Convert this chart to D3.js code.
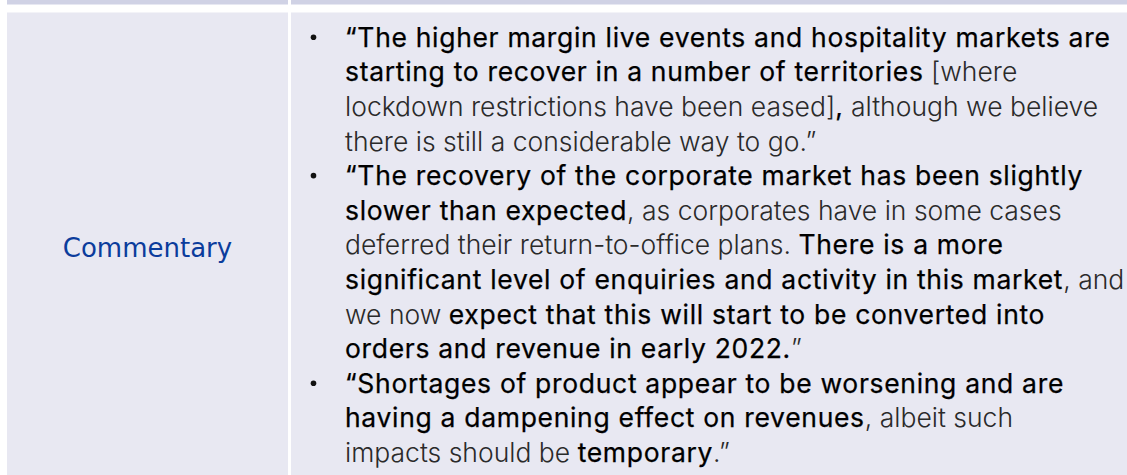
<!DOCTYPE html>
<html>
<head>
<meta charset="utf-8">
<script src="https://cdn.jsdelivr.net/npm/d3@7"></script>
<style>
  body { margin: 0; background: #ffffff; }
  svg { display: block; }
</style>
</head>
<body>
<div id="chart"></div>
<script>
// row label in the left column
var rowLabel = "Commentary";

// commentary lines, each a list of [weight, text] parts (b = emphasis, l = light)
var lines = [
  [["b", "\u201CThe higher margin live events and hospitality markets are"]],
  [["b", "starting to recover in a number of territories"], ["l", " [where"]],
  [["l", "lockdown restrictions have been eased]"], ["b", ","], ["l", " although we believe"]],
  [["l", "there is still a considerable way to go.\u201D"]],
  [["b", "\u201CThe recovery of the corporate market has been slightly"]],
  [["b", "slower than expected"], ["l", ", as corporates have in some cases"]],
  [["l", "deferred their return-to-office plans. "], ["b", "There is a more"]],
  [["b", "significant level of enquiries and activity in this market"], ["l", ", and"]],
  [["l", "we now "], ["b", "expect that this will start to be converted into"]],
  [["b", "orders and revenue in early 2022."], ["l", "\u201D"]],
  [["b", "\u201CShortages of product appear to be worsening and are"]],
  [["b", "having a dampening effect on revenues"], ["l", ", albeit such"]],
  [["l", "impacts should be "], ["b", "temporary"], ["l", ".\u201D"]]
];

// lines that start a new bullet
var bulletLines = [0, 4, 10];

var width = 1127, height = 475;

var svg = d3.select("#chart").append("svg")
  .attr("width", width)
  .attr("height", height);

// columns
var colX = d3.scaleOrdinal().domain(["label", "text"]).range([7, 291]);
var colW = d3.scaleOrdinal().domain(["label", "text"]).range([281, 836]);

// header strip
svg.selectAll(".head")
  .data(["label", "text"])
  .enter().append("rect")
  .attr("x", function(d) { return colX(d); })
  .attr("y", 0)
  .attr("width", function(d) { return colW(d); })
  .attr("height", 4.5)
  .attr("fill", "#d0d2e5");

// body cells
svg.selectAll(".cell")
  .data(["label", "text"])
  .enter().append("rect")
  .attr("x", function(d) { return colX(d); })
  .attr("y", 12.5)
  .attr("width", function(d) { return colW(d); })
  .attr("height", height - 12.5)
  .attr("fill", "#e8e8f2");

// label
svg.append("text")
  .attr("x", colX("label") + colW("label") / 2)
  .attr("y", 257)
  .attr("text-anchor", "middle")
  .attr("font-family", "DejaVu Sans")
  .attr("font-size", "26px")
  .attr("fill", "#0b3c9c")
  .text(rowLabel);

// line baselines
var y = d3.scaleLinear().domain([0, lines.length - 1]).range([46.7, 462]);

var textX = 345;

svg.selectAll(".bullet")
  .data(bulletLines)
  .enter().append("circle")
  .attr("cx", 313.5)
  .attr("cy", function(d) { return y(d) - 9.5; })
  .attr("r", 2.8)
  .attr("fill", "#111");

var rows = svg.selectAll(".line")
  .data(lines)
  .enter().append("text")
  .attr("x", textX)
  .attr("y", function(d, i) { return y(i); })
  .attr("font-family", "Inter")
  .attr("font-size", "26.5px")
  .attr("xml:space", "preserve")
  .style("white-space", "pre");

rows.selectAll("tspan")
  .data(function(d) { return d; })
  .enter().append("tspan")
  .attr("font-weight", function(d) { return d[0] === "b" ? 400 : 300; })
  .attr("letter-spacing", function(d) { return d[0] === "b" ? "0.68px" : "0px"; })
  .attr("fill", function(d) { return d[0] === "b" ? "#000000" : "#2a2a2a"; })
  .attr("stroke", function(d) { return d[0] === "b" ? "#000000" : "none"; })
  .attr("stroke-width", 0.25)
  .text(function(d) { return d[1]; });
</script>
</body>
</html>
